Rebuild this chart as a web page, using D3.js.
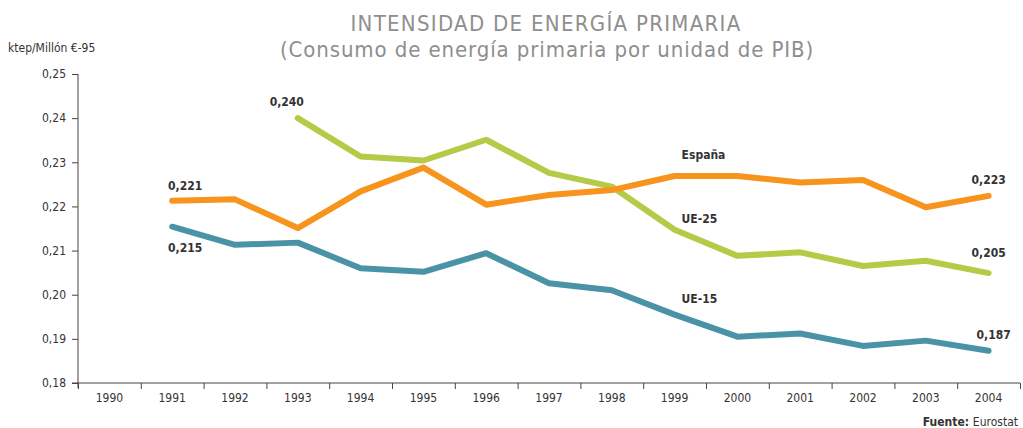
<!DOCTYPE html>
<html>
<head>
<meta charset="utf-8">
<script src="https://cdn.jsdelivr.net/npm/d3@7"></script>
<style>
  body { margin: 0; background: #fff; }
  svg text { font-family: "DejaVu Sans Condensed", "Roboto", sans-serif; }
</style>
</head>
<body>
<div id="viz"></div>
<script>
// values
var years = [1990, 1991, 1992, 1993, 1994, 1995, 1996, 1997, 1998, 1999, 2000, 2001, 2002, 2003, 2004];
var espana = [null, 0.2213, 0.2216, 0.2151, 0.2234, 0.2288, 0.2204, 0.2226, 0.2237, 0.2269, 0.2269, 0.2254, 0.2260, 0.2198, 0.2224];
var ue25 = [null, null, null, 0.2400, 0.2313, 0.2304, 0.2351, 0.2276, 0.2245, 0.2147, 0.2088, 0.2096, 0.2065, 0.2077, 0.2049];
var ue15 = [null, 0.2154, 0.2113, 0.2118, 0.2060, 0.2052, 0.2094, 0.2026, 0.2010, 0.1955, 0.1905, 0.1912, 0.1884, 0.1896, 0.1873];
var yTicks = [0.18, 0.19, 0.20, 0.21, 0.22, 0.23, 0.24, 0.25];

var width = 1023, height = 428;
var margin = { top: 74, right: 3, bottom: 45, left: 78 };

var svg = d3.select('#viz').append('svg')
    .attr('width', width)
    .attr('height', height);

var x = d3.scaleLinear()
    .domain([1989.5, 2004.5])
    .range([margin.left, width - margin.right]);

var y = d3.scaleLinear()
    .domain([0.18, 0.25])
    .range([height - margin.bottom, margin.top]);

var comma = function(d, n) { return d.toFixed(n).replace('.', ','); };

// title
svg.append('text')
    .attr('x', 546).attr('y', 31)
    .attr('text-anchor', 'middle')
    .style('font-size', '22px')
    .style('letter-spacing', '1.3px')
    .style('fill', '#8e8e8e')
    .text('INTENSIDAD DE ENERGÍA PRIMARIA');
svg.append('text')
    .attr('x', 547).attr('y', 57)
    .attr('text-anchor', 'middle')
    .style('font-size', '22px')
    .style('letter-spacing', '0.9px')
    .style('fill', '#8e8e8e')
    .text('(Consumo de energía primaria por unidad de PIB)');

svg.append('text')
    .attr('x', 8).attr('y', 52)
    .style('font-size', '12px')
    .style('fill', '#333')
    .text('ktep/Millón €-95');

// y axis
var yAxis = svg.append('g')
    .attr('transform', 'translate(' + margin.left + ',0)')
    .call(d3.axisLeft(y).tickValues(yTicks).tickSize(6).tickPadding(6)
        .tickFormat(function(d) { return comma(d, 2); }));
yAxis.select('.domain').attr('d', 'M0,' + margin.top + 'V' + (height - margin.bottom + 5));

// x axis, ticks on the year boundaries
var xAxis = svg.append('g')
    .attr('transform', 'translate(0,' + (height - margin.bottom) + ')')
    .call(d3.axisBottom(x).tickValues(d3.range(1989.5, 2005, 1)).tickSize(6).tickFormat(''));
xAxis.select('.domain').attr('d', 'M' + (margin.left - 6) + ',0H' + (width - margin.right));

svg.selectAll('.tick line, .domain').attr('stroke', '#444').attr('stroke-width', 1);
svg.selectAll('.tick text').style('font-size', '12px').style('fill', '#333').style('font-family', '"DejaVu Sans Condensed", sans-serif');

svg.append('g').selectAll('text').data(years)
    .enter().append('text')
    .attr('x', function(d) { return x(d); })
    .attr('y', height - margin.bottom + 19)
    .attr('text-anchor', 'middle')
    .style('font-size', '12px')
    .style('fill', '#333')
    .text(function(d) { return d; });

// lines
var line = d3.line()
    .defined(function(d) { return d != null; })
    .x(function(d, i) { return x(years[i]); })
    .y(function(d) { return y(d); });

var series = [
    { values: ue25, color: '#b3cb47' },
    { values: espana, color: '#f7941d' },
    { values: ue15, color: '#4a93a6' }
];

svg.append('g').selectAll('path').data(series)
    .enter().append('path')
    .attr('d', function(s) { return line(s.values); })
    .attr('fill', 'none')
    .attr('stroke', function(s) { return s.color; })
    .attr('stroke-width', 6)
    .attr('stroke-linecap', 'round')
    .attr('stroke-linejoin', 'round');

// labels
var labels = [
    { year: 1993, value: ue25[3], dx: -11, dy: -12, text: comma(ue25[3], 3), anchor: 'middle' },
    { year: 1991, value: espana[1], dx: 13, dy: -11, text: '0,221', anchor: 'middle' },
    { year: 1991, value: ue15[1], dx: 13, dy: 25, text: '0,215', anchor: 'middle' },
    { year: 2004, value: espana[14], dx: 0, dy: -12, text: '0,223', anchor: 'middle' },
    { year: 2004, value: ue25[14], dx: 0, dy: -16, text: '0,205', anchor: 'middle' },
    { year: 2004, value: ue15[14], dx: 5, dy: -12, text: '0,187', anchor: 'middle' },
    { year: 1999, value: 0.2269, dx: 7, dy: -17, text: 'España', anchor: 'start' },
    { year: 1999, value: 0.2147, dx: 7, dy: -7, text: 'UE-25', anchor: 'start' },
    { year: 1999, value: 0.1955, dx: 7, dy: -12, text: 'UE-15', anchor: 'start' }
];

svg.append('g').selectAll('text').data(labels)
    .enter().append('text')
    .attr('x', function(d) { return x(d.year) + d.dx; })
    .attr('y', function(d) { return y(d.value) + d.dy; })
    .attr('text-anchor', function(d) { return d.anchor; })
    .style('font-size', '12px')
    .style('font-weight', 'bold')
    .style('fill', '#333')
    .text(function(d) { return d.text; });

// source
var src = svg.append('text')
    .attr('x', 1018).attr('y', 426)
    .attr('text-anchor', 'end')
    .style('font-size', '12px')
    .style('fill', '#333');
src.append('tspan').style('font-weight', 'bold').text('Fuente: ');
src.append('tspan').text('Eurostat');
</script>
</body>
</html>
